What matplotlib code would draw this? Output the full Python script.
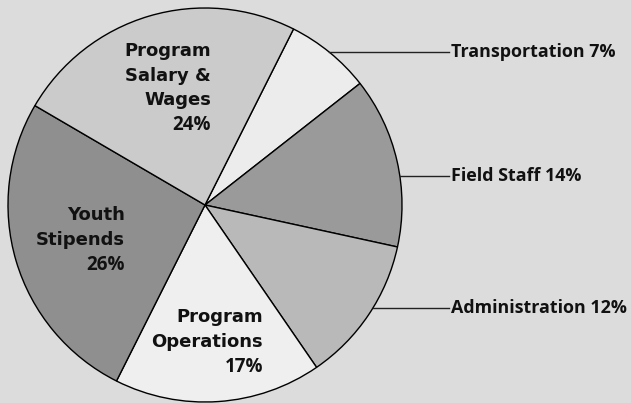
import numpy as np
import matplotlib.pyplot as plt

# slice data, clockwise from the top-right slice
labels = ["Transportation", "Field Staff", "Administration",
          "Program\nOperations", "Youth\nStipends", "Program\nSalary &\nWages"]
shares = [7, 14, 12, 17, 26, 24]
colors = ["#ececec", "#9a9a9a", "#b9b9b9", "#efefef", "#8f8f8f", "#cbcbcb"]

# which slices get an outside label with a leader line
outside = [True, True, True, False, False, False]

W, H = 631, 403
CX, CY, R = 205, H - 205, 197

fig = plt.figure(figsize=(W / 100, H / 100), dpi=100)
fig.patch.set_facecolor("#dcdcdc")
ax = fig.add_axes([0, 0, 1, 1])
ax.set_facecolor("#dcdcdc")

wedges, _ = ax.pie(shares, colors=colors, startangle=63.3, counterclock=False,
                   center=(CX, CY), radius=R,
                   wedgeprops=dict(edgecolor="black", linewidth=1.0))
ax.set_xlim(0, W)
ax.set_ylim(0, H)
ax.set_aspect("equal")
ax.axis("off")

name_font = dict(family="DejaVu Sans", weight="bold", size=13, color="#111111")
pct_font = dict(family="Open Sans", weight="bold", size=13.5, color="#111111")
side_font = dict(family="Open Sans", weight="bold", size=12.9, color="#111111")

# outside labels: y position (pixels from top) of each leader line
line_y = [52, 176, 308]
text_x = 451
k = 0
for i, w in enumerate(wedges):
    if not outside[i]:
        continue
    y = H - line_y[k]
    k += 1
    x0 = CX + np.sqrt(R ** 2 - (y - CY) ** 2)
    ax.plot([x0, text_x - 2], [y, y], color="#222222", lw=1)
    ax.text(text_x, y, f"{labels[i]} {shares[i]}%", ha="left", va="center",
            **side_font)

# inside labels: right edge and vertical centre (pixels from top)
inside_pos = {3: (263, 342), 4: (125, 240), 5: (211, 88)}
step = 24.5
for i, (xr, yc) in inside_pos.items():
    rows = labels[i].split("\n") + [f"{shares[i]}%"]
    n = len(rows)
    for j, row in enumerate(rows):
        y = yc + (j - (n - 1) / 2) * step
        font = pct_font if j == n - 1 else name_font
        ax.text(xr, H - y, row, ha="right", va="center", **font)

fig.savefig("out.png", dpi=100, facecolor=fig.get_facecolor())
